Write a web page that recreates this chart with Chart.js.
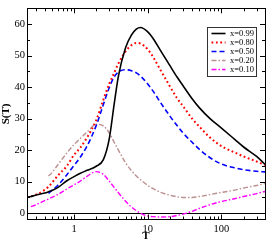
<!DOCTYPE html>
<html>
<head>
<meta charset="utf-8">
<script src="https://cdn.jsdelivr.net/npm/chart.js@4"></script>
<style>
  html, body { margin: 0; padding: 0; background: #fff; }
  #wrap { width: 268px; height: 242px; }
</style>
</head>
<body>
<div id="wrap"><canvas id="chart" width="268" height="242"></canvas></div>
<script>
// shared temperature grid (log axis)
const tValues = [0.23, 0.26, 0.3, 0.4, 0.45, 0.5, 0.6, 0.8, 1, 1.2, 1.5, 2, 2.5, 3, 3.5, 4, 5, 6, 7, 8,
  10, 12, 15, 20, 25, 30, 40, 50, 70, 100, 150, 200, 300, 390];

// S(T) for each x, null where the curve is not drawn
const s099 = [5.0, 5.3, 5.7, 6.4, 6.8, 7.2, 8.1, 10.3, 11.6, 12.6, 13.6, 14.9, 17.0, 23.5, 34.5, 43.5, 52.5, 56.5, 58.4, 58.9,
  57.5, 55.2, 51.5, 46.8, 43.2, 40.5, 36.3, 33.5, 30.0, 27.0, 23.5, 21.0, 18.0, 15.5];
const s080 = [5.0, 5.3, 5.8, 7.4, 8.4, 9.6, 11.9, 15.0, 18.5, 20.6, 24.0, 29.5, 36.0, 41.0, 44.5, 47.5, 51.3, 53.3, 54.0, 53.8,
  52.0, 49.3, 45.3, 40.2, 36.5, 34.0, 30.0, 27.5, 24.0, 21.3, 19.3, 18.0, 16.4, 15.3];
const s050 = [null, null, null, null, 6.3, 7.2, 8.8, 12.2, 15.2, 17.6, 21.3, 27.8, 34.5, 39.8, 43.2, 44.8, 45.5, 45.2, 44.5, 43.5,
  41.0, 38.5, 35.0, 30.8, 27.8, 25.5, 22.5, 20.3, 17.6, 15.6, 14.4, 13.8, 13.3, 13.1];
const s020 = [null, null, null, null, 11.8, 12.8, 15.3, 19.1, 21.8, 23.6, 25.7, 28.2, 27.7, 25.5, 22.5, 20.0, 16.0, 13.5, 11.8, 10.6,
  8.8, 7.7, 6.6, 5.7, 5.2, 5.0, 5.0, 5.3, 5.9, 6.6, 7.3, 8.0, 8.8, 9.4];
const s010 = [null, 2.1, 2.6, 4.0, 4.5, 5.0, 5.9, 7.7, 9.0, 10.1, 11.7, 13.2, 12.3, 10.2, 8.2, 6.5, 3.8, 2.0, 0.8, 0.0,
  -0.9, -1.1, -1.2, -1.1, -0.7, -0.3, 0.6, 1.5, 2.7, 3.7, 4.6, 5.3, 6.2, 6.9];

const seriesLabels = ['x=0.99', 'x=0.80', 'x=0.50', 'x=0.20', 'x=0.10'];
const xTickValues = [1, 10, 100];
const yTickValues = [0, 10, 20, 30, 40, 50, 60];

const toPoints = arr => tValues.map((t, i) => ({ x: t, y: arr[i] })).filter(p => p.y !== null);

Chart.defaults.font.family = '"Liberation Serif", "Times New Roman", serif';
Chart.defaults.color = '#000';

const styles = [
  { color: '#000000', width: 1.6, dash: [] },
  { color: '#ff0000', width: 2, dash: [1.8, 2.6] },
  { color: '#0000ff', width: 1.6, dash: [5, 3] },
  { color: '#bc8f8f', width: 1.4, dash: [5, 2, 1.5, 2] },
  { color: '#ff00ff', width: 1.4, dash: [5, 2, 1.5, 2] }
];

const datasets = [s099, s080, s050, s020, s010].map((arr, i) => ({
  label: seriesLabels[i],
  data: toPoints(arr),
  borderColor: styles[i].color,
  borderWidth: styles[i].width,
  borderDash: styles[i].dash,
  pointRadius: 0,
  fill: false,
  cubicInterpolationMode: 'monotone'
}));

// frame with inward ticks, zero line and the boxed legend
const framePlugin = {
  id: 'frame',
  beforeDatasetsDraw(chart) {
    const { ctx, chartArea: a, scales: { y } } = chart;
    const y0 = Math.round(y.getPixelForValue(0)) + 0.5;
    ctx.save();
    ctx.strokeStyle = '#000';
    ctx.lineWidth = 1;
    ctx.beginPath();
    ctx.moveTo(a.left, y0);
    ctx.lineTo(a.right, y0);
    ctx.stroke();
    ctx.restore();
  },
  afterDatasetsDraw(chart) {
    const { ctx, chartArea: a, scales: { x, y } } = chart;
    ctx.save();
    ctx.strokeStyle = '#000';
    ctx.lineWidth = 1;
    ctx.strokeRect(Math.round(a.left) + 0.5, Math.round(a.top) + 0.5,
      Math.round(a.right - a.left), Math.round(a.bottom - a.top));

    ctx.beginPath();
    // x ticks, bottom and top
    [0.1, 1, 10, 100].forEach(d => {
      for (let k = 1; k <= 9; k++) {
        const v = k * d;
        if (v < x.min || v > x.max) continue;
        const len = k === 1 ? 5 : 3;
        const px = Math.round(x.getPixelForValue(v)) + 0.5;
        ctx.moveTo(px, a.bottom); ctx.lineTo(px, a.bottom - len);
        ctx.moveTo(px, a.top); ctx.lineTo(px, a.top + len);
      }
    });
    // y ticks, left and right
    for (let v = 0; v < y.max; v += 5) {
      const len = v % 10 === 0 ? 5 : 3;
      const py = Math.round(y.getPixelForValue(v)) + 0.5;
      ctx.moveTo(a.left, py); ctx.lineTo(a.left + len, py);
      ctx.moveTo(a.right, py); ctx.lineTo(a.right - len, py);
    }
    ctx.stroke();

    // legend box
    const bx = 207.5, by = 27.5, bw = 49, bh = 49;
    ctx.fillStyle = '#fff';
    ctx.fillRect(bx, by, bw, bh);
    ctx.strokeStyle = '#333';
    ctx.strokeRect(bx, by, bw, bh);
    ctx.font = '8.5px "Liberation Serif", serif';
    ctx.textBaseline = 'middle';
    ctx.textAlign = 'left';
    chart.data.datasets.forEach((ds, i) => {
      const ly = by + 6 + i * 9;
      ctx.strokeStyle = ds.borderColor;
      ctx.lineWidth = ds.borderWidth;
      ctx.setLineDash(ds.borderDash);
      ctx.beginPath();
      ctx.moveTo(bx + 4, ly);
      ctx.lineTo(bx + 18, ly);
      ctx.stroke();
      ctx.setLineDash([]);
      ctx.fillStyle = '#000';
      ctx.fillText(ds.label, bx + 22.5, ly + 0.5);
    });
    ctx.restore();
  }
};

new Chart(document.getElementById('chart'), {
  type: 'line',
  data: { datasets },
  options: {
    responsive: false,
    animation: false,
    layout: { padding: { left: 0, top: 2, right: 3, bottom: 0 } },
    plugins: { legend: { display: false }, tooltip: { enabled: false } },
    scales: {
      x: {
        type: 'logarithmic',
        min: 0.23,
        max: 390,
        grid: { display: false, drawTicks: false },
        border: { display: false },
        afterBuildTicks: s => { s.ticks = xTickValues.map(v => ({ value: v })); },
        afterFit: s => { s.height = 22.5; },
        ticks: {
          padding: 3,
          maxRotation: 0,
          autoSkip: false,
          font: { size: 10.5 },
          callback: v => String(v)
        },
        title: {
          display: true,
          text: 'T',
          font: { size: 11, weight: 'bold', lineHeight: 1 },
          padding: { top: 0, bottom: 0 }
        }
      },
      y: {
        type: 'linear',
        min: -2,
        max: 65,
        grid: { display: false, drawTicks: false },
        border: { display: false },
        afterBuildTicks: s => { s.ticks = yTickValues.map(v => ({ value: v })); },
        afterFit: s => { s.width = 27; },
        ticks: {
          padding: 2,
          font: { size: 10.5 },
          callback: v => String(v)
        },
        title: {
          display: true,
          text: 'S(T)',
          font: { size: 11, weight: 'bold', lineHeight: 1 },
          padding: { top: 1, bottom: 0 }
        }
      }
    }
  },
  plugins: [framePlugin]
});
</script>
</body>
</html>
